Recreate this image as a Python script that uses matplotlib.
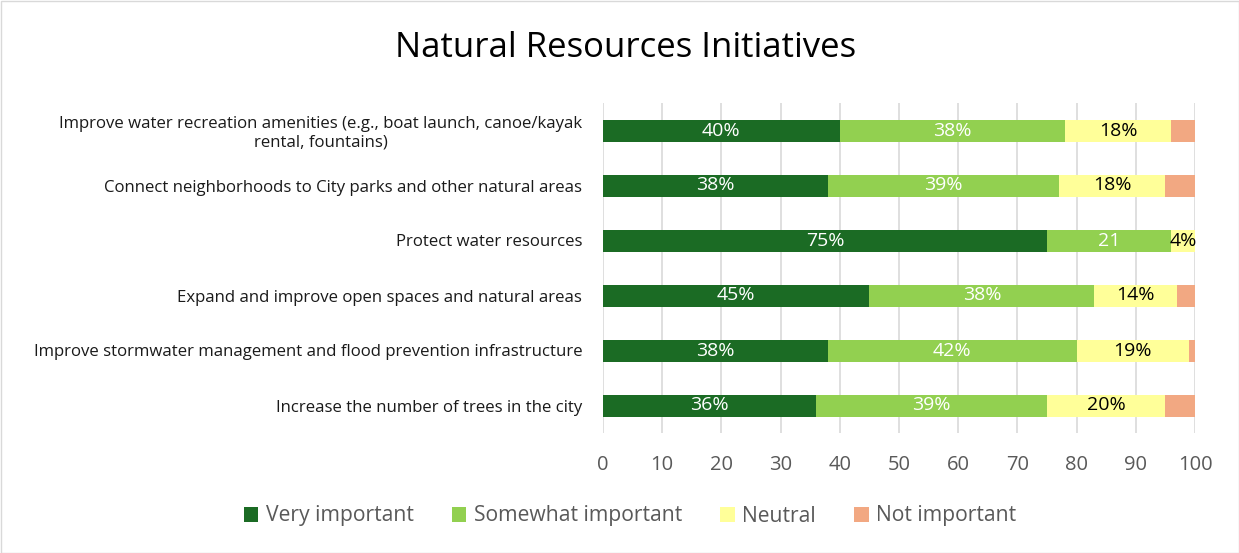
import matplotlib.pyplot as plt
from matplotlib.patches import Patch, Rectangle

plt.rcParams['font.family'] = ['Open Sans', 'DejaVu Sans']

# Survey results, percent of respondents
initiatives = [
    "Improve water recreation amenities (e.g., boat launch, canoe/kayak\nrental, fountains)",
    "Connect neighborhoods to City parks and other natural areas",
    "Protect water resources",
    "Expand and improve open spaces and natural areas",
    "Improve stormwater management and flood prevention infrastructure",
    "Increase the number of trees in the city",
]
very_important = [40, 38, 75, 45, 38, 36]
somewhat_important = [38, 39, 21, 38, 42, 39]
neutral = [18, 18, 4, 14, 19, 20]
not_important = [4, 5, 0.4, 3, 1, 5]

series = ["Very important", "Somewhat important", "Neutral", "Not important"]
colors = ["#1B6B24", "#92D050", "#FFFF99", "#F2A882"]
text_colors = ["white", "white", "black", None]
# the "Protect water resources" somewhat-important label has no % sign
label_fmt = [["{:.0f}%"] * 6,
             ["{:.0f}%", "{:.0f}%", "{:.0f}", "{:.0f}%", "{:.0f}%", "{:.0f}%"],
             ["{:.0f}%"] * 6,
             None]

fig = plt.figure(figsize=(12.39, 5.53), dpi=100)
ax = fig.add_axes([603 / 1239, 1 - 433 / 553, (1195 - 603) / 1239, (433 - 103) / 553])

y = list(range(len(initiatives)))
left = [0] * len(initiatives)
for k, vals in enumerate([very_important, somewhat_important, neutral, not_important]):
    ax.barh(y, vals, left=left, height=0.4, color=colors[k], zorder=2)
    if label_fmt[k] is not None:
        for i, v in enumerate(vals):
            ax.text(left[i] + v / 2, i, label_fmt[k][i].format(v), ha='center', va='center',
                    color=text_colors[k], fontsize=14, zorder=3)
    left = [a + b for a, b in zip(left, vals)]

ax.set_xlim(0, 100)
ax.set_ylim(5.5, -0.5)
ax.set_xticks(range(0, 101, 10))
ax.set_yticks(y)
ax.set_yticklabels(initiatives, fontsize=12.1, color='#1a1a1a', multialignment='center')
ax.tick_params(axis='x', length=0, labelsize=14.5, labelcolor='#595959', pad=16)
ax.tick_params(axis='y', length=0, pad=15)
ax.grid(axis='x', color='#d9d9d9', linewidth=1.2, zorder=0)
for s in ax.spines.values():
    s.set_visible(False)

fig.suptitle("Natural Resources Initiatives", x=626 / 1239, y=1 - 48 / 553, va='center',
             fontsize=25, color='black')

handles = [Patch(facecolor=c, label=s) for c, s in zip(colors, series)]
fig.legend(handles=handles, loc='center', bbox_to_anchor=(630 / 1239, 1 - 516 / 553), ncol=4,
           frameon=False, fontsize=15.2, labelcolor='#595959', handlelength=0.7,
           handleheight=0.7, handletextpad=0.35, columnspacing=1.8)

fig.patches.append(Rectangle((0.5 / 1239, 0.5 / 553), 1 - 1 / 1239, 1 - 1 / 553,
                             transform=fig.transFigure, fill=False, edgecolor='#d9d9d9', linewidth=1))

fig.savefig("out.png", dpi=100)
